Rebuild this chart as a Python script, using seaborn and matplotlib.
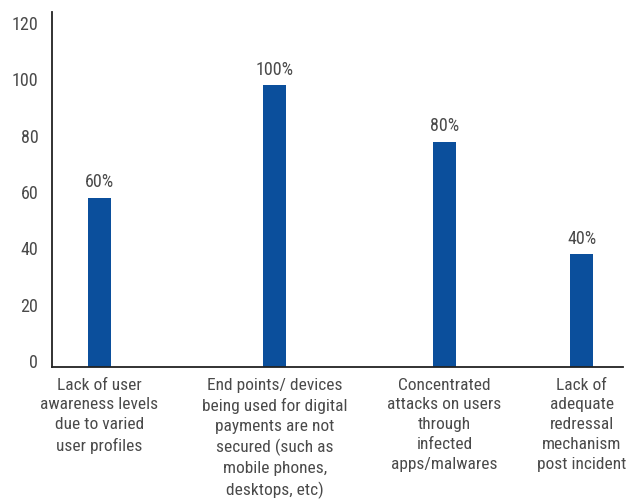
import matplotlib
matplotlib.use("Agg")
import matplotlib.pyplot as plt
from matplotlib import font_manager
import seaborn as sns
import pandas as pd

# Survey findings: share of respondents citing each concern
categories = [
    "Lack of user\nawareness levels\ndue to varied\nuser profiles",
    "End points/ devices\nbeing used for digital\npayments are not\nsecured (such as\nmobile phones,\ndesktops, etc)",
    "Concentrated\nattacks on users\nthrough\ninfected\napps/malwares",
    "Lack of\nadequate\nredressal\nmechanism\npost incident",
]
values = [60, 100, 80, 40]
value_labels = ["60%", "100%", "80%", "40%"]
y_ticks = [0, 20, 40, 60, 80, 100, 120]

# horizontal slot centres (fraction of the axis width)
slot_centers = [0.083, 0.390, 0.687, 0.927]

sns.set_theme(style="white")

available = {f.name for f in font_manager.fontManager.ttflist}
family = "DejaVu Sans"
for cand in ["Roboto Condensed", "Liberation Sans Narrow", "DejaVu Sans Condensed",
             "Roboto"]:
    if cand in available:
        family = cand
        break
plt.rcParams["font.family"] = [family, "DejaVu Sans"]

text_color = "#4a4a4a"
bar_color = "#0b4f9c"

df = pd.DataFrame({"pos": slot_centers, "value": values})

fig = plt.figure(figsize=(6.36, 5.02), dpi=100)
ax = fig.add_axes([0.082, 0.267, 0.898, 0.707])

bar_w = 0.040
min_gap = min(b - a for a, b in zip(slot_centers[:-1], slot_centers[1:]))
sns.barplot(data=df, x="pos", y="value", native_scale=True, color=bar_color,
            saturation=1, width=bar_w / min_gap, ax=ax, errorbar=None,
            linewidth=0)

for patch, lab in zip(ax.patches, value_labels):
    ax.annotate(lab, (patch.get_x() + patch.get_width() / 2, patch.get_height()),
                xytext=(0, 5.5), textcoords="offset points", ha="center", va="bottom",
                fontsize=13, color=text_color)

ax.set_xlim(0, 1)
ax.set_ylim(0, 126)
ax.set_yticks(y_ticks)
ax.set_yticklabels([str(t) for t in y_ticks], fontsize=13, color=text_color,
                   va="baseline")
ax.set_xticks(slot_centers)
ax.set_xticklabels(categories, fontsize=12.5, color=text_color, linespacing=1.4,
                   ha="center", va="top")
ax.tick_params(axis="both", length=0)
ax.tick_params(axis="y", pad=10)
ax.tick_params(axis="x", pad=7)
ax.set_xlabel("")
ax.set_ylabel("")

for side in ["top", "right"]:
    ax.spines[side].set_visible(False)
for side in ["left", "bottom"]:
    ax.spines[side].set_color("#222222")
    ax.spines[side].set_linewidth(1.3)

fig.savefig("out.png", dpi=100, facecolor="white")
